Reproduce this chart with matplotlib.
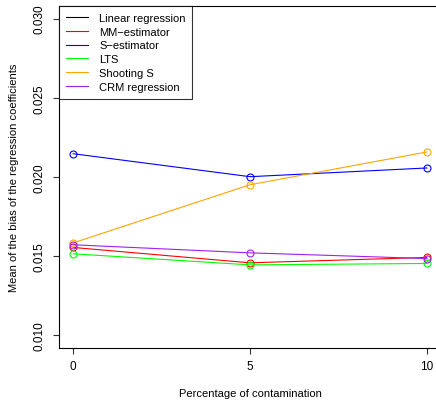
import numpy as np
import matplotlib
matplotlib.use("Agg")
import matplotlib.pyplot as plt
from matplotlib import rcParams

rcParams["font.family"] = ["Liberation Sans", "DejaVu Sans"]
rcParams["font.size"] = 8

# 数据
contamination = [0, 5, 10]
methods = ["Linear regression", "MM\u2212estimator", "S\u2212estimator", "LTS",
           "Shooting S", "CRM regression"]
colors = ["black", "red", "blue", "#00ff00", "orange", "#a020f0"]
linear_reg = [np.nan, np.nan, np.nan]   # 不在显示范围内
mm_est = [0.01555, 0.01458, 0.01492]
s_est = [0.02147, 0.02002, 0.02057]
lts = [0.01515, 0.01445, 0.01454]
shooting_s = [0.01584, 0.01951, 0.02158]
crm_reg = [0.01572, 0.01521, 0.01485]
series = [linear_reg, mm_est, s_est, lts, shooting_s, crm_reg]

W, H = 436, 402
fig = plt.figure(figsize=(W / 100, H / 100), dpi=100)
ax = fig.add_axes([59 / W, 1 - 349 / H, 382 / W, 342 / H])

for name, vals, c in zip(methods, series, colors):
    ax.plot(contamination, vals, color=c, lw=0.8, label=name)
    ax.plot(contamination, vals, "o", mfc="none", mec=c, ms=5, mew=0.8)

ax.set_xlim(-0.4, 10.4)
ax.set_ylim(0.0092, 0.0308)
ax.set_xticks([0, 5, 10])
ax.set_yticks([0.010, 0.015, 0.020, 0.025, 0.030])
ax.set_yticklabels(["0.010", "0.015", "0.020", "0.025", "0.030"], rotation=90, va="center")
ax.tick_params(direction="out", length=4, width=0.8, colors="#333333", labelcolor="black",
               labelsize=8.5)
ax.tick_params(axis="x", pad=5)
ax.tick_params(axis="y", pad=6)
for s in ax.spines.values():
    s.set_linewidth(0.8)

ax.set_xlabel("Percentage of contamination", labelpad=11)
ax.set_ylabel("Mean of the bias of the regression coefficients", labelpad=10)

leg = ax.legend(loc="upper left", frameon=True, fancybox=False, edgecolor="black",
                borderaxespad=0, handlelength=2.0, handletextpad=1.0,
                labelspacing=0.35, borderpad=0.6, fontsize=8)
leg.get_frame().set_linewidth(0.8)

fig.savefig("out.png", dpi=100)
